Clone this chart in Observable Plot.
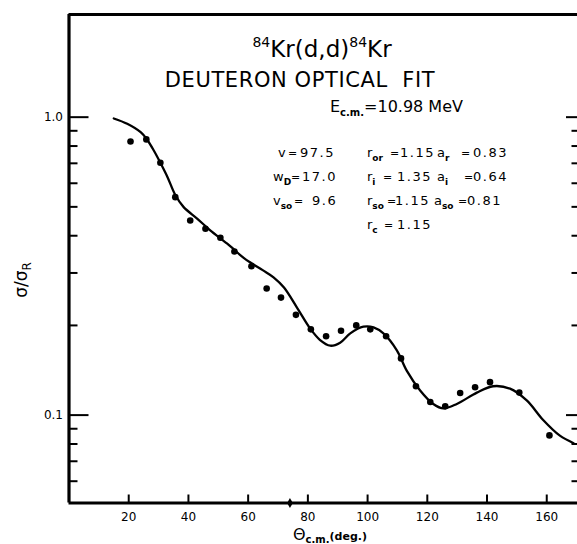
<!DOCTYPE html>
<html>
<head>
<meta charset="utf-8">
<script src="https://cdn.jsdelivr.net/npm/d3@7"></script>
<script src="https://cdn.jsdelivr.net/npm/@observablehq/plot@0.6"></script>
<style>
  html, body { margin: 0; padding: 0; background: #fff; }
  #chart svg { display: block; }
</style>
</head>
<body>
<div id="chart"></div>
<script>
// Measured elastic-scattering ratio sigma/sigma_R versus c.m. angle
const thetaData = [20.6, 25.9, 30.6, 35.6, 40.6, 45.7, 50.7, 55.4, 61.1, 66.2, 71.0, 76.0, 81.0, 86.1, 91.1, 96.2, 100.9, 106.2, 111.2, 116.2, 121.0, 126.0, 131.0, 136.0, 141.0, 150.8, 160.9];
const ratioData = [0.829, 0.842, 0.703, 0.539, 0.450, 0.422, 0.394, 0.354, 0.316, 0.266, 0.248, 0.217, 0.194, 0.184, 0.192, 0.200, 0.194, 0.184, 0.155, 0.125, 0.1106, 0.107, 0.1186, 0.124, 0.129, 0.119, 0.0855];

// point sitting on the lower edge of the frame
const thetaLow = [74.0];
const ratioLow = [0.0507];

// Optical-model fit curve
const thetaFit = [15, 19.5, 24, 26, 28.4, 30.6, 33, 35.6, 38.4, 43, 47.3, 53, 58.5, 61, 65, 68.5, 72, 76.3, 80.8, 84, 87.5, 90.8, 94.2, 98.6, 102, 105.3, 109.8, 113.1, 117.6, 122, 125.4, 129.9, 136.6, 142, 147.7, 153.3, 158.8, 164.4, 169];
const ratioFit = [0.990, 0.950, 0.890, 0.845, 0.773, 0.703, 0.629, 0.548, 0.499, 0.456, 0.417, 0.376, 0.337, 0.324, 0.306, 0.290, 0.268, 0.230, 0.195, 0.179, 0.171, 0.175, 0.188, 0.198, 0.197, 0.188, 0.165, 0.141, 0.121, 0.109, 0.1053, 0.109, 0.119, 0.125, 0.1227, 0.112, 0.0963, 0.0853, 0.0805];

// Axes
const xDomain = [0, 170.3];
const yDomain = [0.0507, 2.211];
const xTicks = [20, 40, 60, 80, 100, 120, 140, 160];
const yMajor = [0.1, 1.0];
const yMinor = [0.06, 0.07, 0.08, 0.09, 0.2, 0.3, 0.4, 0.5, 0.6, 0.7, 0.8, 0.9];

const points = thetaData.map((t, i) => ({theta: t, ratio: ratioData[i]}));
const lowPoints = thetaLow.map((t, i) => ({theta: t, ratio: ratioLow[i]}));
const fit = thetaFit.map((t, i) => ({theta: t, ratio: ratioFit[i]}));

const W = 577, H = 544;
const mL = 68.5, mT = 14, mR = 0, mB = 41.5;
const innerW = W - mL - mR, innerH = H - mT - mB;
const FONT = "DejaVu Sans, Liberation Sans, sans-serif";

const chart = Plot.plot({
  width: W,
  height: H,
  marginLeft: mL,
  marginTop: mT,
  marginRight: mR,
  marginBottom: mB,
  style: {fontFamily: FONT, fontSize: "12px", color: "#000", background: "#fff", overflow: "visible"},
  x: {domain: xDomain, ticks: xTicks, tickSize: 0, tickPadding: 9, label: null},
  y: {type: "log", domain: yDomain, ticks: yMajor, tickFormat: d => d.toFixed(1), tickSize: 0, tickPadding: 6, label: null},
  marks: [
    // inward tick marks
    Plot.ruleY(yMajor, {insetRight: innerW - 20, strokeWidth: 2}),
    Plot.ruleY(yMinor, {insetRight: innerW - 9, strokeWidth: 2}),
    Plot.ruleY(yMajor, {insetLeft: innerW - 11, strokeWidth: 2}),
    Plot.ruleY(yMinor, {insetLeft: innerW - 5.5, strokeWidth: 2}),
    Plot.ruleX(xTicks, {insetTop: innerH - 8, strokeWidth: 2}),
    // frame: left, top, bottom
    Plot.ruleX([xDomain[0]], {strokeWidth: 3.2}),
    Plot.ruleY(yDomain, {strokeWidth: 3.2}),
    // fit and data
    Plot.line(fit, {x: "theta", y: "ratio", curve: "catmull-rom", strokeWidth: 2.3, stroke: "#000"}),
    Plot.dot(points, {x: "theta", y: "ratio", r: 3.3, fill: "#000", stroke: "none"}),
    Plot.dot(lowPoints, {x: "theta", y: "ratio", r: 3, fill: "#000", stroke: "none", symbol: "diamond"})
  ]
});

document.getElementById("chart").appendChild(chart);

const svg = d3.select(chart);
const g = svg.append("g").attr("font-family", FONT).attr("fill", "#000");

// Helper: text built from runs [{t, size, dy, weight}]
function rich(x, y, runs, opts = {}) {
  const el = g.append("text")
    .attr("x", x).attr("y", y)
    .attr("font-size", opts.size || 13)
    .attr("text-anchor", opts.anchor || "start")
    .attr("xml:space", "preserve");
  if (opts.transform) el.attr("transform", opts.transform);
  if (opts.spacing) el.attr("letter-spacing", opts.spacing);
  runs.forEach(r => {
    const ts = el.append("tspan").text(r.t);
    if (r.size) ts.attr("font-size", r.size);
    if (r.dy) ts.attr("dy", r.dy);
    if (r.weight) ts.attr("font-weight", r.weight);
  });
  return el;
}

// Title block
rich(322, 57, [
  {t: "84", size: 14, dy: -10},
  {t: "Kr(d,d)", size: 23, dy: 10},
  {t: "84", size: 14, dy: -10},
  {t: "Kr", size: 23, dy: 10}
], {anchor: "middle"});
rich(300, 87, [{t: "DEUTERON OPTICAL  FIT"}], {anchor: "middle", size: 21, spacing: 0.6});
rich(330, 112, [
  {t: "E", size: 16},
  {t: "c.m.", size: 10, dy: 4, weight: "bold"},
  {t: "=10.98 MeV", size: 16, dy: -4}
]);

// Parameter table
const sub = (main, s) => [{t: main}, {t: s, size: 9, dy: 4, weight: "bold"}];
function cell(xl, xe, xv, y, main, s, value) {
  rich(xl, y, s ? sub(main, s) : [{t: main}]);
  rich(xe, y, [{t: "="}], {size: 11});
  rich(xv, y, [{t: value}], {spacing: 1.5});
}
cell(278, 288, 300, 157, "v", "", "97.5");
cell(273, 291, 302, 181, "w", "D", "17.0");
cell(273, 294, 312, 205, "v", "so", "9.6");
cell(367, 390, 400, 157, "r", "or", "1.15");
cell(367, 383, 397, 181, "r", "i", "1.35");
cell(367, 387, 395, 205, "r", "so", "1.15");
cell(367, 384, 397, 229, "r", "c", "1.15");
cell(437, 461, 473, 157, "a", "r", "0.83");
cell(437, 464, 473, 181, "a", "i", "0.64");
cell(434, 458, 467, 205, "a", "so", "0.81");

// Axis titles
rich(0, 0, [{t: "σ/σ", size: 17}, {t: "R", size: 12, dy: 4}], {anchor: "middle", transform: "translate(27,280) rotate(-90)"});
rich(330, 540, [
  {t: "Θ", size: 16},
  {t: "c.m.", size: 10, dy: 3, weight: "bold"},
  {t: "(deg.)", size: 11, dy: -3, weight: "bold"}
], {anchor: "middle"});
</script>
</body>
</html>
